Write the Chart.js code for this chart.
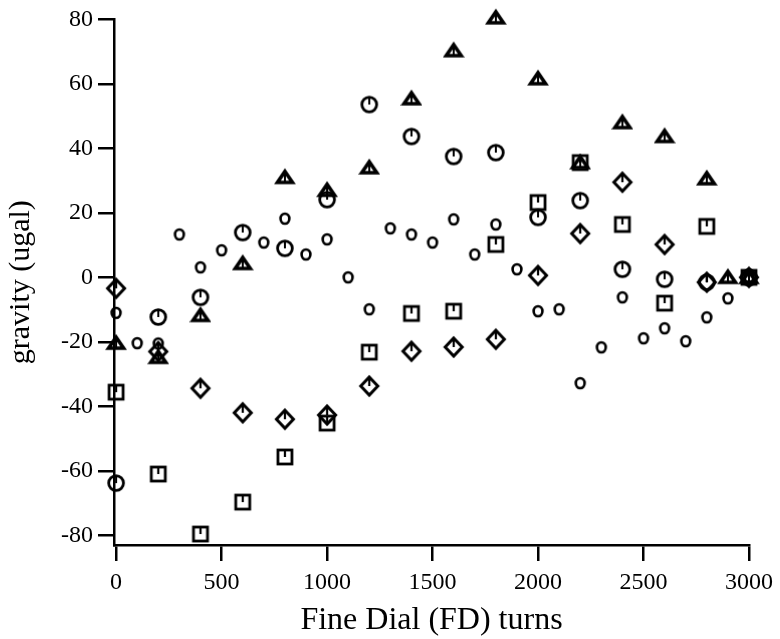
<!DOCTYPE html>
<html>
<head>
<meta charset="utf-8">
<script src="https://cdn.jsdelivr.net/npm/chart.js@4/dist/chart.umd.min.js"></script>
<style>
  html, body { margin: 0; padding: 0; background: #fff; }
  #wrap { width: 780px; height: 639px; }
</style>
</head>
<body>
<div id="wrap"><canvas id="c" width="780" height="639"></canvas></div>
<script>
// Fine dial positions (FD turns) and gravity readings (ugal) per run
const evenTurns      = [0, 200, 400, 600, 800, 1000, 1200, 1400, 1600, 1800, 2000, 2200, 2400, 2600, 2800, 3000];
const circleGravity  = [-63.8, -12.3, -6.2, 13.9, 9.0, 24.1, 53.6, 43.7, 37.5, 38.7, 18.6, 23.8, 2.5, -0.6, -1.5, 0];
const squareGravity  = [-35.6, -61.0, -79.6, -69.7, -55.7, -45.2, -23.2, -11.2, -10.5, 10.2, 23.2, 35.6, 16.4, -8.0, 15.8, 0];
const diamondGravity = [-3.4, -23.0, -34.4, -42.0, -44.0, -42.7, -33.7, -22.9, -21.6, -19.2, 0.6, 13.6, 29.5, 10.2, -1.5, 0];

const triangleTurns   = [0, 200, 400, 600, 800, 1000, 1200, 1400, 1600, 1800, 2000, 2200, 2400, 2600, 2800, 2900, 3000];
const triangleGravity = [-20.4, -24.8, -11.8, 4.3, 31.0, 27.0, 34.0, 55.4, 70.3, 80.5, 61.6, 35.6, 48.0, 43.7, 30.6, 0, 0];

const smallTurns   = [0, 100, 200, 300, 400, 500, 700, 800, 900, 1000, 1100, 1200, 1300, 1400, 1500, 1600, 1700, 1800,
                      1900, 2000, 2100, 2200, 2300, 2400, 2500, 2600, 2700, 2800, 2900, 3000];
const smallGravity = [-11.0, -20.4, -20.5, 13.3, 3.1, 8.4, 10.8, 18.2, 7.1, 11.8, 0, -9.9, 15.2, 13.3, 10.8, 18.0, 7.1, 16.4,
                      2.5, -10.5, -9.9, -32.8, -21.7, -6.2, -18.9, -15.8, -19.8, -12.4, -6.5, 0];

const xTicks = [0, 500, 1000, 1500, 2000, 2500, 3000];
const yTicks = [-80, -60, -40, -20, 0, 20, 40, 60, 80];

const pairs = (xs, ys) => xs.map((x, i) => ({ x: x, y: ys[i] }));

// Plot symbols, each with a short stem from the top edge towards the centre
function symbol(w, h, draw) {
  const cv = document.createElement('canvas');
  cv.width = w; cv.height = h;
  const g = cv.getContext('2d');
  g.strokeStyle = '#000';
  g.fillStyle = '#000';
  g.lineJoin = 'miter';
  draw(g);
  return cv;
}
const bigCircle = symbol(22, 22, g => {
  g.lineWidth = 2.8;
  g.beginPath(); g.arc(11, 11, 7.4, 0, Math.PI * 2); g.stroke();
  g.lineWidth = 2;
  g.beginPath(); g.moveTo(11, 4); g.lineTo(11, 11); g.stroke();
});
const smallCircle = symbol(16, 16, g => {
  g.lineWidth = 2.6;
  g.beginPath(); g.ellipse(8, 8, 4.4, 5.0, 0, 0, Math.PI * 2); g.stroke();
});
const triangle = symbol(22, 20, g => {
  g.lineWidth = 3.6;
  g.beginPath(); g.moveTo(11, 4); g.lineTo(18.5, 15); g.lineTo(3.5, 15); g.closePath(); g.stroke();
  g.lineWidth = 2;
  g.beginPath(); g.moveTo(11, 7); g.lineTo(11, 14); g.stroke();
});
const square = symbol(20, 20, g => {
  g.lineWidth = 2.8;
  g.strokeRect(3, 3, 14, 14);
  g.lineWidth = 2.2;
  g.beginPath(); g.moveTo(10, 3); g.lineTo(10, 10); g.stroke();
});
const diamond = symbol(24, 24, g => {
  g.lineWidth = 3;
  g.beginPath(); g.moveTo(12, 3); g.lineTo(20.5, 12); g.lineTo(12, 21); g.lineTo(3.5, 12); g.closePath(); g.stroke();
  g.lineWidth = 2.2;
  g.beginPath(); g.moveTo(12, 3); g.lineTo(12, 12); g.stroke();
});

const serif = "'Liberation Serif', 'Times New Roman', Times, serif";
const axisColor = '#000';

const series = (label, data, style) => ({
  label: label, data: data, pointStyle: style, showLine: false, clip: false,
  pointRadius: 8, pointHoverRadius: 8
});

new Chart(document.getElementById('c'), {
  type: 'scatter',
  data: {
    datasets: [
      series('small circles', pairs(smallTurns, smallGravity), smallCircle),
      series('squares', pairs(evenTurns, squareGravity), square),
      series('diamonds', pairs(evenTurns, diamondGravity), diamond),
      series('triangles', pairs(triangleTurns, triangleGravity), triangle),
      series('circles', pairs(evenTurns, circleGravity), bigCircle)
    ]
  },
  options: {
    responsive: false,
    animation: false,
    events: [],
    layout: { padding: { top: 19, right: 30, bottom: 0, left: 0 } },
    plugins: { legend: { display: false }, tooltip: { enabled: false } },
    scales: {
      x: {
        type: 'linear',
        min: -10,
        max: 3000,
        afterBuildTicks: s => { s.ticks = xTicks.map(v => ({ value: v })); },
        afterFit: s => { s.height = 94; },
        grid: { drawOnChartArea: false, drawTicks: true, tickLength: 16, color: axisColor, lineWidth: 2.5 },
        border: { display: true, color: axisColor, width: 2.5 },
        ticks: {
          color: '#000', font: { family: serif, size: 24 }, padding: 7, maxRotation: 0, autoSkip: false,
          callback: v => String(v)
        },
        title: {
          display: true, text: 'Fine Dial (FD) turns', color: '#000',
          font: { family: serif, size: 32, lineHeight: 1 }, padding: { top: 0, bottom: 2 }
        }
      },
      y: {
        type: 'linear',
        min: -83,
        max: 80,
        afterBuildTicks: s => { s.ticks = yTicks.map(v => ({ value: v })); },
        afterFit: s => { s.width = 114; },
        grid: { drawOnChartArea: false, drawTicks: true, tickLength: 16, color: axisColor, lineWidth: 2.5 },
        border: { display: true, color: axisColor, width: 2.5 },
        ticks: { color: '#000', font: { family: serif, size: 24 }, padding: 5, callback: v => String(v) },
        title: {
          display: true, text: 'gravity (ugal)', color: '#000',
          font: { family: serif, size: 30, lineHeight: 1 }, padding: { top: 6, bottom: 0 }
        }
      }
    }
  }
});
</script>
</body>
</html>
